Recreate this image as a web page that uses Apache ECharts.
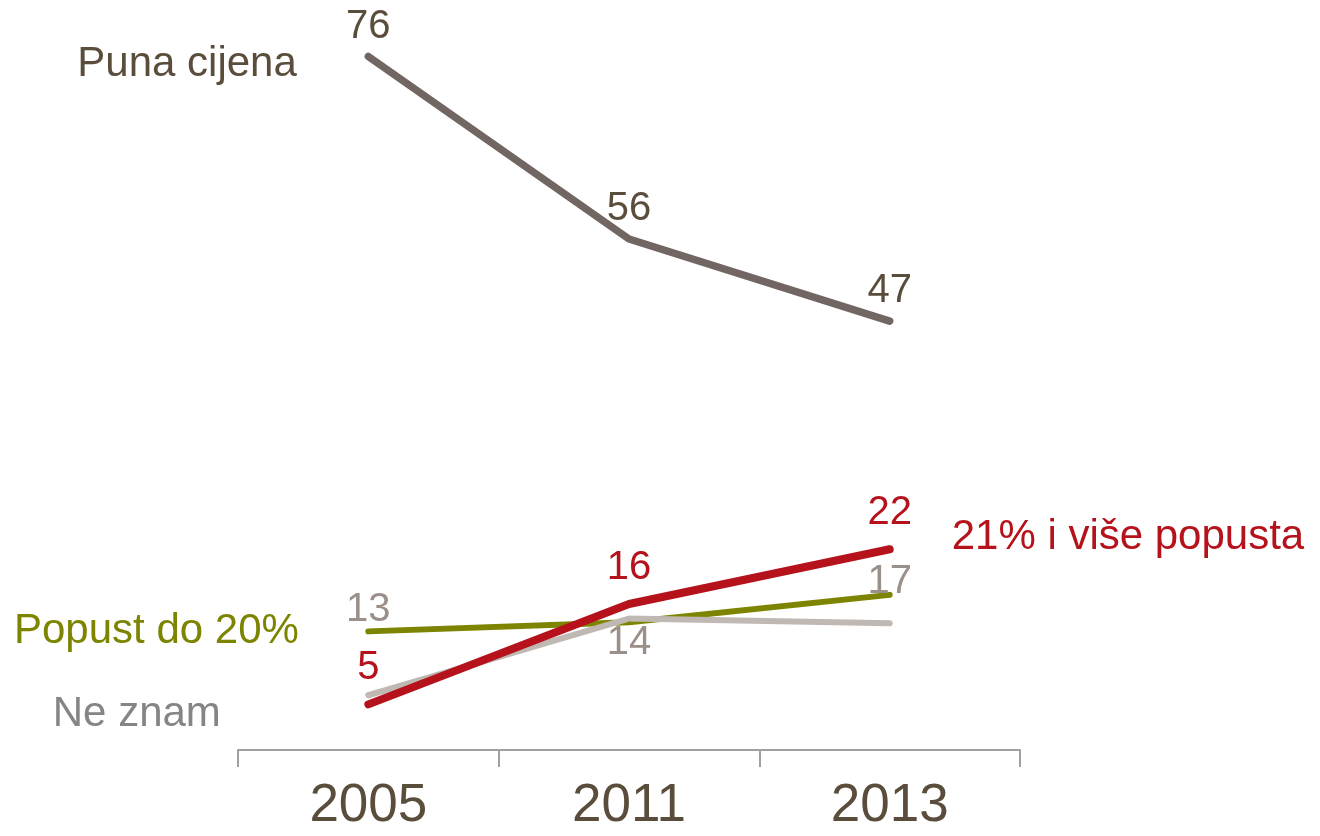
<!DOCTYPE html>
<html>
<head>
<meta charset="utf-8">
<script src="https://cdn.jsdelivr.net/npm/echarts@6/dist/echarts.min.js"></script>
<style>
  html, body { margin: 0; padding: 0; background: #fff; }
  #chart { width: 1320px; height: 836px; }
</style>
</head>
<body>
<div id="chart"></div>
<script>
  // godine
  const years = ['2005', '2011', '2013']

  // vrijednosti (%)
  const punaCijena = [76, 56, 47]
  const visePopusta = [5, 16, 22]
  const popustDo20 = [13, 14, 17]
  const neZnam = [6, 14.4, 13.9]

  const font = '"Liberation Sans", Arial, sans-serif'

  // naziv serije lijevo od prve tocke
  function nameMark (name, value, color, dist, dy) {
    return {
      symbol: 'circle',
      symbolSize: 1,
      itemStyle: { color: 'rgba(0,0,0,0)' },
      silent: true,
      data: [{ coord: [0, value] }],
      label: {
        show: true,
        position: 'left',
        distance: dist,
        offset: [0, dy],
        formatter: name,
        color: color,
        fontSize: 42,
        fontFamily: font
      }
    }
  }

  const myChart = echarts.init(document.getElementById('chart'))
  myChart.setOption({
    animation: false,
    grid: { left: 238, right: 300, top: 20, bottom: 86 },
    xAxis: {
      type: 'category',
      data: years,
      boundaryGap: true,
      axisLine: { lineStyle: { color: '#a0a0a0', width: 2 } },
      axisTick: { show: true, length: 17, lineStyle: { color: '#a0a0a0', width: 2 } },
      axisLabel: { color: '#5a4d3c', fontSize: 53, fontFamily: font, margin: 30 }
    },
    yAxis: {
      type: 'value',
      min: 0,
      max: 80,
      show: false,
      splitLine: { show: false }
    },
    series: [
      {
        name: 'Popust do 20%',
        type: 'line',
        symbol: 'circle',
        symbolSize: 2,
        itemStyle: { color: '#7d8400' },
        lineStyle: { color: '#7d8400', width: 6, cap: 'round' },
        label: {
          show: true,
          color: '#9b8f89',
          fontSize: 40,
          fontFamily: font,
          position: 'top',
          distance: 0
        },
        labelLayout: { hideOverlap: false },
        data: [
          { value: popustDo20[0] },
          { value: popustDo20[1], label: { position: 'bottom', distance: 0 } },
          { value: popustDo20[2], label: { distance: -8 } }
        ],
        markPoint: nameMark('Popust do 20%', popustDo20[0], '#7d8400', 69, 0)
      },
      {
        name: 'Ne znam',
        type: 'line',
        data: neZnam,
        showSymbol: false,
        lineStyle: { color: '#c0b8b3', width: 6, cap: 'round' },
        markPoint: nameMark('Ne znam', neZnam[0], '#858585', 147, 19)
      },
      {
        name: '21% i više popusta',
        type: 'line',
        data: visePopusta,
        symbol: 'circle',
        symbolSize: 2,
        itemStyle: { color: '#b5121b' },
        lineStyle: { color: '#b5121b', width: 8, cap: 'round' },
        label: {
          show: true,
          position: 'top',
          distance: 15,
          color: '#b5121b',
          fontSize: 40,
          fontFamily: font
        },
        endLabel: {
          show: true,
          formatter: '{a}',
          color: '#b5121b',
          fontSize: 42,
          fontFamily: font,
          distance: 62,
          offset: [0, -12]
        }
      },
      {
        name: 'Puna cijena',
        type: 'line',
        data: punaCijena,
        symbol: 'circle',
        symbolSize: 2,
        itemStyle: { color: '#716661' },
        lineStyle: { color: '#716661', width: 7.5, cap: 'round' },
        label: {
          show: true,
          position: 'top',
          distance: 9,
          color: '#5a4d3c',
          fontSize: 40,
          fontFamily: font
        },
        markPoint: nameMark('Puna cijena', punaCijena[0], '#5a4d3c', 71, 8)
      }
    ]
  })
</script>
</body>
</html>
